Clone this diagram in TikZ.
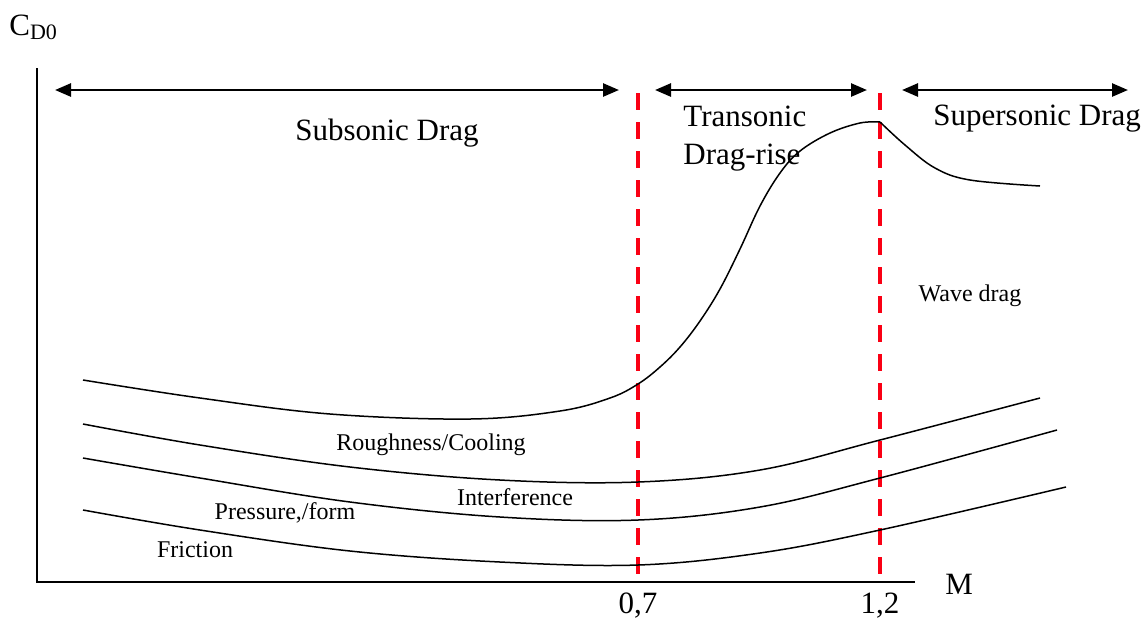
\documentclass[tikz,border=0pt]{standalone}
\usepackage{fontspec}
\setmainfont{Liberation Serif}
\definecolor{dragred}{RGB}{250, 0, 20}
\usetikzlibrary{arrows.meta, positioning}

\begin{document}
\begin{tikzpicture}[x=0.5pt, y=-0.5pt,
  bigtxt/.style={font=\fontsize{15.5}{18}\selectfont},
  smalltxt/.style={font=\fontsize{12}{14}\selectfont},
  axisline/.style={line width=0.8pt},
  regionarrow/.style={line width=1.3pt, {Triangle[length=8pt,width=6.5pt]}-{Triangle[length=8pt,width=6.5pt]}},
  machline/.style={dragred, line width=1.7pt, dash pattern=on 8.5pt off 6pt},
  dragcurve/.style={line width=0.75pt, smooth, tension=0.6}]
\useasboundingbox (0,0) rectangle (1146,623);

% axes
\coordinate (origin) at (37,582);
\coordinate (ytop) at (37,68);
\coordinate (xend) at (915,582);
\draw[axisline] (ytop) -- (origin) -- (xend);
\node[bigtxt, anchor=base west, inner sep=0pt] (cd) at (9,35) {C\textsubscript{\fontsize{11}{12}\selectfont D0}};
\node[bigtxt, anchor=west, inner sep=0pt] (mach) at (945,584) {M};

% Mach limits
\coordinate (m07top) at (638,93);
\coordinate (m07) at (638,582);
\coordinate (m12top) at (880,93);
\coordinate (m12) at (880,582);
\draw[machline] (m07top) -- (m07);
\draw[machline] (m12top) -- (m12);
\node[bigtxt] (l07) at (638,606) {0,7};
\node[bigtxt] (l12) at (880,606) {1,2};

% regions
\coordinate (subL) at (55,90);
\coordinate (subR) at (619,90);
\coordinate (traL) at (655,90);
\coordinate (traR) at (867,90);
\coordinate (supL) at (902,90);
\coordinate (supR) at (1128,90);
\draw[regionarrow] (subL) -- (subR);
\draw[regionarrow] (traL) -- (traR);
\draw[regionarrow] (supL) -- (supR);
\node[bigtxt] (subsonic) at (387,133) {Subsonic Drag};
\node[bigtxt, anchor=west, align=left, inner sep=0pt] (transonic) at (683,139) {Transonic\\[1pt]Drag-rise};
\node[bigtxt, anchor=west, inner sep=0pt] (supersonic) at (933,119) {Supersonic Drag};

% drag components
\draw[dragcurve] plot coordinates {(83,380) (200,398) (330,414) (470,419) (560,411) (610,398) (638,384)
  (660,367) (680,347) (700,321) (720,289) (740,249) (760,206) (780,173) (800,151) (830,133) (860,123) (880,122)};
\draw[dragcurve] plot coordinates {(880,122) (905,145) (935,168) (970,180) (1040,186)};
\draw[dragcurve] plot coordinates {(83,424) (200,445) (350,467) (500,480) (638,482) (760,470) (880,440) (1040,398)};
\draw[dragcurve] plot coordinates {(83,458) (200,478) (350,502) (500,517) (638,520) (760,507) (880,478) (1057,430)};
\draw[dragcurve] plot coordinates {(83,510) (200,530) (350,551) (500,562) (638,565) (760,553) (880,530) (1066,487)};

\node[smalltxt] (wave) at (970,296) {Wave drag};
\node[smalltxt] (rough) at (431,445) {Roughness/Cooling};
\node[smalltxt] (interf) at (515,497) {Interference};
\node[smalltxt] (press) at (285,513) {Pressure,/form};
\node[smalltxt] (fric) at (195,550) {Friction};

\end{tikzpicture}
\end{document}
